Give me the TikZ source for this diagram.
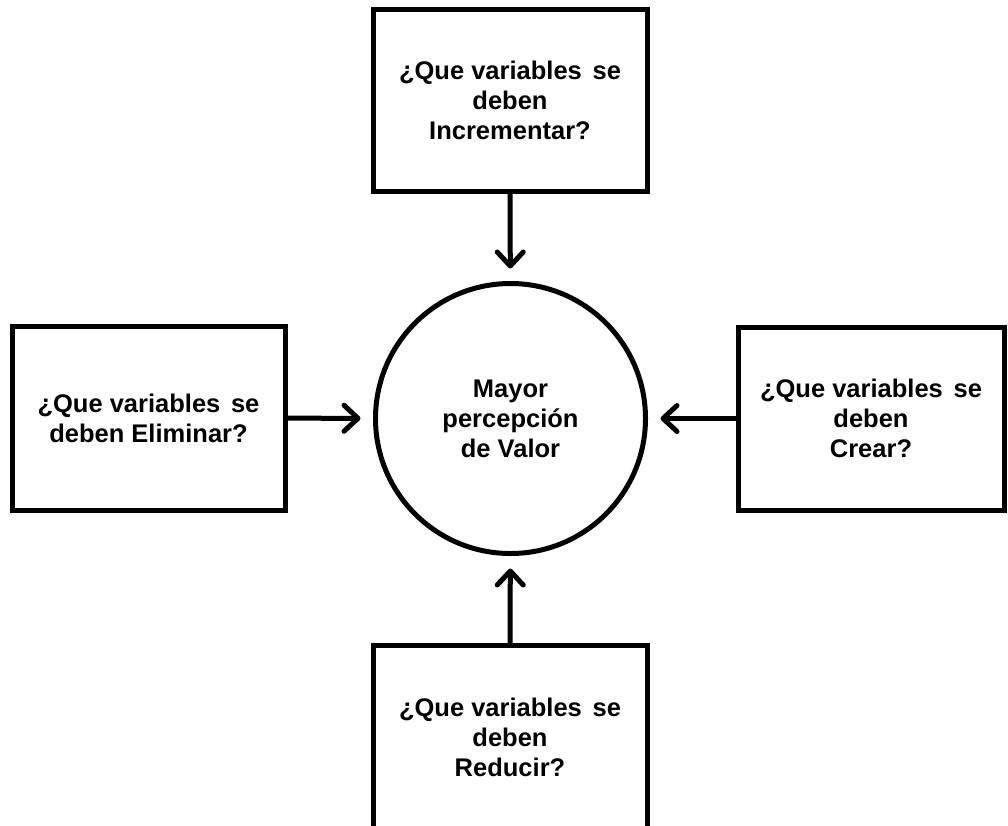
\documentclass[tikz,border=0pt]{standalone}
\usepackage{fontspec}
\setmainfont{Liberation Sans}
\usetikzlibrary{arrows.meta}
\begin{document}
\begin{tikzpicture}[x=1pt,y=-1pt,
  txt/.style={font=\bfseries\fontsize{25.5}{30}\selectfont, align=center},
  box/.style={txt, draw, line width=5pt, rectangle, inner sep=0pt, outer sep=0pt,
    minimum width=274pt, minimum height=182pt},
  hub/.style={txt, draw, line width=5pt, circle, inner sep=0pt, outer sep=0pt,
    minimum size=270pt},
  arr/.style={line width=5pt, -{Straight Barb[length=14pt,width=26pt,round]}, shorten >=15pt}
]
\useasboundingbox (0,0) rectangle (1008,825);
\node[hub] (c) at (510.5,418.5) {Mayor\\percepción\\de Valor};
\node[box] (t) at (510,100) {¿Que variables\hspace{.42em}se\\deben\\Incrementar?};
\node[box, minimum width=273pt, minimum height=184pt] (l) at (148.5,418) {¿Que variables\hspace{.42em}se\\deben Eliminar?};
\node[box, minimum width=266pt, minimum height=183pt] (r) at (871,418.5) {¿Que variables\hspace{.42em}se\\deben\\Crear?};
\node[box, minimum height=184pt] (b) at (510,737) {¿Que variables\hspace{.42em}se\\deben\\Reducir?};
\draw[arr] (t) -- (c);
\draw[arr] (l) -- (c);
\draw[arr] (r) -- (c);
\draw[arr] (b) -- (c);
\end{tikzpicture}
\end{document}
